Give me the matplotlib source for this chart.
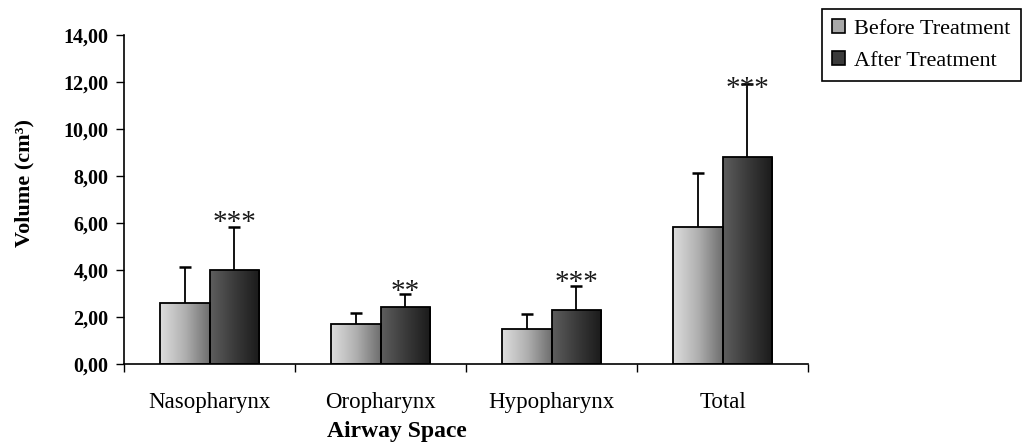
import matplotlib
matplotlib.use("Agg")
import matplotlib.pyplot as plt
import numpy as np
from matplotlib.colors import LinearSegmentedColormap
from matplotlib.patches import Patch
from matplotlib.ticker import FixedLocator, FuncFormatter

categories = ["Nasopharynx", "Oropharynx", "Hypopharynx", "Total"]
series_names = ["Before Treatment", "After Treatment"]
before_vals = [2.61, 1.69, 1.49, 5.84]
before_err = [1.53, 0.47, 0.62, 2.27]
after_vals = [4.01, 2.41, 2.28, 8.82]
after_err = [1.83, 0.56, 1.05, 3.10]
sig_labels = ["***", "**", "***", "***"]
sig_y = [6.22, 3.28, 3.68, 11.94]
y_ticks = [0, 2, 4, 6, 8, 10, 12, 14]

serif = ["Liberation Serif", "DejaVu Serif"]
plt.rcParams["font.family"] = serif

fig = plt.figure(figsize=(10.28, 4.46), dpi=100)
ax = fig.add_axes([124/1028, 1-364/446, 684/1028, 329/446])

cmap_before = LinearSegmentedColormap.from_list("b", ["#dedede", "#b0b0b0", "#6e6e6e"])
cmap_after = LinearSegmentedColormap.from_list("a", ["#5e5e5e", "#3a3a3a", "#1a1a1a"])

x = np.arange(len(categories))
w = 0.287
grad = np.linspace(0, 1, 256).reshape(1, -1)

def gradient_bars(bars, cmap):
    for b in bars:
        x0, y0 = b.get_x(), b.get_y()
        x1, y1 = x0 + b.get_width(), y0 + b.get_height()
        im = ax.imshow(grad, cmap=cmap, extent=[x0, x1, y0, y1], aspect="auto",
                       zorder=2, interpolation="bilinear")
        im.set_clip_path(b)

bb = ax.bar(x - w/2, before_vals, w, facecolor="none", edgecolor="black", linewidth=1.3, zorder=3)
ba = ax.bar(x + w/2, after_vals, w, facecolor="none", edgecolor="black", linewidth=1.3, zorder=3)
gradient_bars(bb, cmap_before)
gradient_bars(ba, cmap_after)

for xs, vals, errs in [(x - w/2, before_vals, before_err), (x + w/2, after_vals, after_err)]:
    eb = ax.errorbar(xs, vals, yerr=[np.zeros(len(x)), errs], fmt="none",
                     ecolor="black", elinewidth=1.3, capsize=4, capthick=1.8, zorder=4)
    caps = eb[1]
    if len(caps) == 2:
        caps[0].remove()

for xi, lab, yy in zip(x, sig_labels, sig_y):
    ax.annotate(lab, (xi + w/2, yy), xytext=(0, -4), textcoords="offset points",
                ha="center", va="center", fontsize=21, color="#1a1a1a", zorder=5)

ax.set_xlim(-0.5, len(categories) - 0.5)
ax.set_ylim(0, 14)
ax.set_yticks(y_ticks)
ax.yaxis.set_major_formatter(FuncFormatter(lambda v, p: f"{v:.2f}".replace(".", ",")))
ax.tick_params(axis="y", direction="out", length=6, width=1, pad=5, labelsize=14.5)
for t in ax.get_yticklabels():
    t.set_fontweight("bold")

ax.set_xticks(x)
ax.set_xticklabels(categories, fontsize=16.5)
ax.xaxis.set_minor_locator(FixedLocator(np.arange(-0.5, len(categories), 1.0)))
ax.tick_params(axis="x", which="major", length=0, pad=20)
ax.tick_params(axis="x", which="minor", direction="out", length=6, width=1)

for s in ["top", "right"]:
    ax.spines[s].set_visible(False)
for s in ["left", "bottom"]:
    ax.spines[s].set_linewidth(1.2)

ax.set_xlabel("Airway Space", fontsize=17, fontweight="bold")
ax.xaxis.set_label_coords((397-124)/684, -(432-364)/329)
ax.xaxis.label.set_va("center")
ax.set_ylabel("Volume (cm³)", fontsize=16, fontweight="bold")
ax.yaxis.set_label_coords(-(124-24)/684, (364-183)/329)
ax.yaxis.label.set_va("center")

handles = [Patch(facecolor="#a8a8a8", edgecolor="black", linewidth=1.2),
           Patch(facecolor="#3a3a3a", edgecolor="black", linewidth=1.2)]
leg = fig.legend(handles, series_names, loc="upper left",
                 bbox_to_anchor=(822/1028, 1-9/446), fontsize=16,
                 handlelength=0.6, handleheight=0.6, handletextpad=0.4,
                 labelspacing=0.55, borderpad=0.45, borderaxespad=0,
                 fancybox=False, shadow=False, edgecolor="black", framealpha=1)
leg.get_frame().set_linewidth(1.2)

fig.savefig("out.png", dpi=100)
